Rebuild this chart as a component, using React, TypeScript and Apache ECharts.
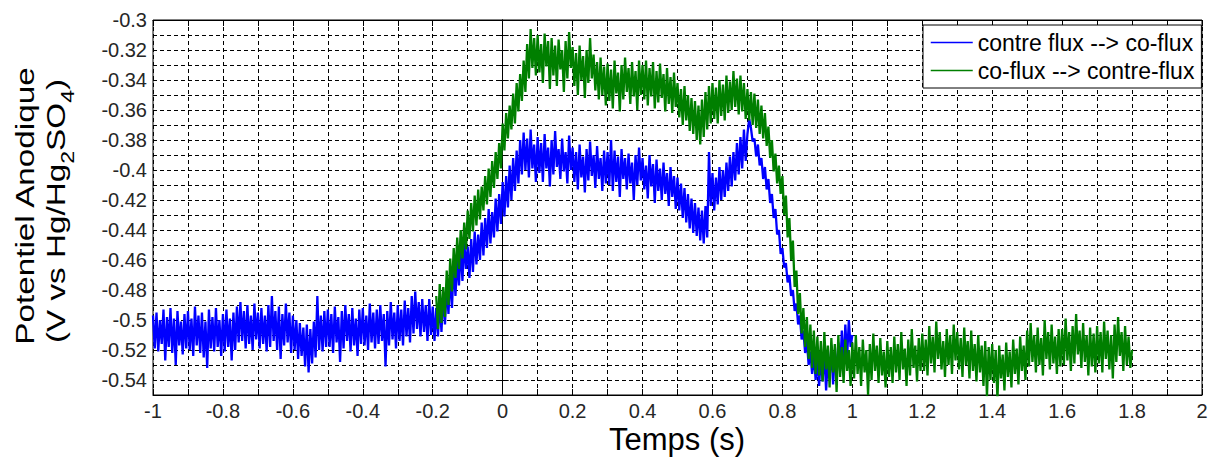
import React, { useEffect, useRef } from "react";
import * as echarts from "echarts";

// x-axis (time, s)
const xMin = -1;
const xMax = 2;
// y-axis (potential, V)
const yMin = -0.55;
const yMax = -0.3;

const seriesNames = ["contre flux --> co-flux", "co-flux --> contre-flux"];
const seriesColors = ["#0000ff", "#007f00"];

// sampling of the traces (s)
const step = 0.005;
const blueStart = -1;
const greenStart = -0.19;

// "contre flux --> co-flux" potential, mV, one row per 0.1 s
const blueMv = [
  -497,-519,-495,-521,-500,-516,-493,-527,-498,-518,-492,-522,-499,-530,-494,-517,-501,-523,-496,-519,
  -494,-520,-499,-524,-491,-517,-497,-522,-495,-525,-501,-532,-493,-519,-498,-521,-492,-518,-500,-524,
  -496,-521,-493,-518,-499,-527,-495,-520,-491,-515,-488,-514,-494,-519,-490,-516,-497,-520,-489,-513,
  -495,-519,-492,-516,-497,-521,-490,-518,-484,-514,-494,-520,-491,-526,-496,-517,-489,-515,-495,-522,
  -497,-520,-500,-526,-502,-524,-505,-531,-503,-535,-506,-529,-501,-525,-484,-520,-497,-521,-494,-518,
  -493,-518,-496,-522,-491,-515,-498,-528,-494,-519,-490,-514,-496,-521,-492,-517,-499,-524,-493,-516,
  -492,-517,-497,-520,-489,-515,-495,-519,-493,-516,-490,-514,-496,-531,-494,-517,-488,-513,-495,-519,
  -490,-514,-493,-517,-487,-511,-492,-515,-484,-509,-481,-506,-488,-511,-486,-508,-490,-514,-486,-510,
  -491,-514,-492,-511,-486,-508,-481,-503,-476,-496,-469,-492,-463,-484,-460,-477,-451,-474,-447,-466,
  -451,-472,-446,-468,-441,-463,-443,-460,-435,-457,-432,-452,-426,-449,-428,-445,-419,-441,-416,-436,
  -408,-431,-404,-425,-397,-420,-392,-414,-387,-409,-380,-403,-375,-400,-379,-405,-373,-399,-383,-408,
  -378,-402,-382,-408,-376,-399,-385,-411,-380,-403,-374,-398,-386,-406,-379,-401,-388,-409,-377,-400,
  -385,-408,-388,-413,-383,-405,-391,-415,-386,-407,-381,-404,-390,-412,-384,-406,-392,-414,-387,-409,
  -388,-410,-380,-414,-387,-408,-391,-418,-386,-406,-392,-413,-389,-409,-395,-420,-390,-410,-385,-407,
  -392,-413,-397,-419,-390,-411,-396,-422,-393,-414,-399,-420,-395,-416,-402,-424,-398,-418,-404,-426,
  -405,-427,-409,-432,-412,-435,-416,-439,-419,-442,-422,-444,-425,-447,-427,-449,-424,-445,-388,-424,
  -402,-427,-405,-423,-398,-420,-400,-418,-395,-414,-391,-411,-388,-407,-382,-403,-378,-399,-373,-394,
  -376,-366,-372,-381,-379,-391,-383,-397,-392,-406,-398,-413,-406,-422,-416,-432,-426,-443,-440,-456,
  -452,-465,-462,-475,-470,-484,-480,-494,-489,-503,-497,-513,-507,-522,-514,-530,-521,-536,-523,-540,
  -527,-544,-524,-541,-520,-547,-526,-539,-517,-543,-522,-537,-515,-534,-507,-530,-503,-525,-500,-518,
  -510,
];

// "co-flux --> contre-flux" potential, mV (first row: -0.19 s to -0.105 s, then one row per 0.1 s)
const greenMv = [
  -484,-506,-476,-502,-478,-498,-467,-490,-459,-481,-452,-472,-445,-466,-440,-459,-435,-453,
  -427,-446,-422,-441,-417,-437,-413,-433,-411,-427,-404,-423,-399,-418,-394,-412,-388,-406,-382,-399,
  -369,-387,-362,-379,-357,-373,-349,-369,-342,-361,-336,-354,-327,-348,-316,-339,-306,-332,-312,-337,
  -310,-335,-316,-342,-309,-331,-314,-346,-312,-337,-317,-344,-313,-333,-320,-348,-314,-339,-308,-332,
  -318,-344,-322,-350,-317,-340,-324,-352,-320,-342,-312,-339,-323,-347,-328,-353,-325,-350,-331,-357,
  -329,-354,-333,-359,-327,-349,-335,-361,-330,-353,-325,-348,-332,-356,-328,-351,-334,-360,-327,-350,
  -330,-353,-327,-357,-332,-351,-328,-359,-334,-355,-329,-352,-336,-361,-332,-356,-338,-362,-335,-358,
  -342,-365,-346,-370,-344,-367,-350,-374,-352,-376,-354,-380,-357,-383,-353,-378,-348,-373,-344,-369,
  -342,-366,-345,-369,-340,-364,-343,-367,-337,-362,-341,-360,-334,-358,-339,-363,-337,-361,-342,-366,
  -346,-367,-348,-370,-349,-372,-353,-376,-357,-379,-362,-384,-371,-392,-380,-401,-389,-409,-397,-416,
  -404,-430,-417,-445,-432,-460,-447,-478,-467,-496,-482,-509,-492,-518,-498,-526,-503,-532,-507,-536,
  -511,-537,-514,-541,-508,-533,-517,-545,-512,-535,-516,-548,-510,-538,-518,-542,-513,-534,-520,-544,
  -515,-539,-510,-536,-518,-544,-513,-535,-520,-550,-516,-540,-509,-534,-517,-542,-512,-537,-521,-545,
  -514,-538,-518,-542,-511,-535,-516,-540,-508,-533,-519,-544,-513,-537,-506,-532,-517,-541,-512,-534,
  -509,-534,-513,-537,-504,-529,-511,-535,-501,-526,-508,-533,-514,-538,-506,-530,-510,-536,-503,-527,
  -508,-533,-512,-538,-505,-530,-514,-539,-507,-534,-516,-541,-510,-535,-517,-544,-514,-551,-518,-540,
  -516,-542,-520,-553,-517,-539,-523,-547,-515,-538,-521,-545,-513,-536,-519,-543,-511,-534,-517,-540,
  -507,-531,-502,-528,-510,-535,-505,-530,-512,-537,-500,-526,-508,-533,-503,-529,-511,-536,-506,-531,
  -506,-530,-499,-527,-508,-534,-504,-529,-496,-523,-507,-532,-502,-528,-510,-537,-505,-531,-509,-535,
  -504,-529,-508,-535,-501,-526,-507,-533,-510,-539,-503,-528,-498,-524,-508,-534,-504,-530,-511,-532,
  -520,
];

const xTitle = "Temps (s)";
const yTitle1 = "Potentiel Anodique";

const FONT = "Liberation Sans, Arial, sans-serif";

function toPairs(start: number, mv: number[]) {
  return mv.map((v, i) => [Math.round((start + i * step) * 1000) / 1000, v / 1000]);
}

export default function App() {
  const ref = useRef<HTMLDivElement>(null);
  useEffect(() => {
    if (!ref.current) return;
    const chart = echarts.init(ref.current, undefined, { renderer: "svg" });
    const dash = { color: "#000", type: [4, 3] as any, width: 1 };
    const xLabel = (v: number) => {
      const k = Math.round(v * 10);
      return k % 2 === 0 ? String(k / 10) : "";
    };
    const yLabel = (v: number) => {
      const k = Math.round(v * 100);
      return k % 2 === 0 ? String(k / 100) : "";
    };
    const labelStyle = { fontFamily: FONT, fontSize: 20, color: "#262626" };
    chart.setOption({
      animation: false,
      backgroundColor: "#fff",
      grid: {
        left: 153,
        right: 12,
        top: 20,
        bottom: 66,
        show: true,
        borderColor: "#000",
        borderWidth: 1,
        backgroundColor: "transparent",
      },
      legend: {
        left: 923,
        top: 25,
        orient: "vertical",
        backgroundColor: "#fff",
        borderColor: "#000",
        borderWidth: 1,
        padding: [6, 7, 6, 7],
        itemWidth: 42,
        itemHeight: 14,
        itemGap: 5,
        itemStyle: { opacity: 0 },
        lineStyle: { width: 1.5 },
        textStyle: { fontFamily: FONT, fontSize: 23, color: "#000" },
        data: seriesNames,
      },
      xAxis: [
        {
          type: "value",
          min: xMin,
          max: xMax,
          interval: 0.1,
          axisLine: { show: true, lineStyle: { color: "#000", width: 1 } },
          axisTick: { show: true, inside: true, length: 6, lineStyle: { color: "#000" } },
          axisLabel: { ...labelStyle, margin: 6, formatter: xLabel, showMinLabel: true, showMaxLabel: true },
          splitLine: { show: true, lineStyle: dash },
        },
        {
          type: "value",
          position: "top",
          min: xMin,
          max: xMax,
          interval: 0.1,
          axisLine: { show: true, lineStyle: { color: "#000", width: 1 } },
          axisTick: { show: true, inside: true, length: 6, lineStyle: { color: "#000" } },
          axisLabel: { show: false },
          splitLine: { show: false },
        },
      ],
      yAxis: [
        {
          type: "value",
          min: yMin,
          max: yMax,
          interval: 0.01,
          axisLine: { show: true, lineStyle: { color: "#000", width: 1 } },
          axisTick: { show: true, inside: true, length: 6, lineStyle: { color: "#000" } },
          axisLabel: { ...labelStyle, margin: 6, formatter: yLabel, showMinLabel: true, showMaxLabel: true },
          splitLine: { show: true, lineStyle: dash },
        },
        {
          type: "value",
          position: "right",
          min: yMin,
          max: yMax,
          interval: 0.01,
          axisLine: { show: true, lineStyle: { color: "#000", width: 1 } },
          axisTick: { show: true, inside: true, length: 6, lineStyle: { color: "#000" } },
          axisLabel: { show: false },
          splitLine: { show: false },
        },
      ],
      series: [
        {
          name: seriesNames[0],
          type: "line",
          symbol: "none",
          showSymbol: false,
          color: seriesColors[0],
          lineStyle: { width: 2.3, color: seriesColors[0] },
          data: toPairs(blueStart, blueMv),
          z: 2,
        },
        {
          name: seriesNames[1],
          type: "line",
          symbol: "none",
          showSymbol: false,
          color: seriesColors[1],
          lineStyle: { width: 2.3, color: seriesColors[1] },
          data: toPairs(greenStart, greenMv),
          z: 3,
        },
      ],
      graphic: [
        {
          type: "text",
          x: 677,
          y: 439,
          style: {
            text: xTitle,
            fontFamily: FONT,
            fontSize: 31,
            fill: "#000",
            textAlign: "center",
            textVerticalAlign: "middle",
            align: "center",
            verticalAlign: "middle",
          },
        },
        {
          type: "text",
          x: 25,
          y: 206,
          rotation: Math.PI / 2,
          scaleX: 1.28,
          style: {
            text: yTitle1,
            fontFamily: FONT,
            fontSize: 26,
            fill: "#000",
            textAlign: "center",
            textVerticalAlign: "middle",
            align: "center",
            verticalAlign: "middle",
          },
        },
        {
          type: "text",
          x: 56,
          y: 211,
          rotation: Math.PI / 2,
          scaleX: 1.28,
          style: {
            text: "{n|(V vs Hg/Hg}{s|2}{n|SO}{s|4}{n|)}",
            fill: "#000",
            textAlign: "center",
            textVerticalAlign: "middle",
            align: "center",
            verticalAlign: "middle",
            rich: {
              n: { fontFamily: FONT, fontSize: 26, lineHeight: 40, verticalAlign: "middle", fill: "#000", color: "#000" },
              s: { fontFamily: FONT, fontSize: 18, lineHeight: 40, verticalAlign: "bottom", fill: "#000", color: "#000" },
            },
          },
        },
      ],
    });
    return () => chart.dispose();
  }, []);
  return (
    <div
      ref={ref}
      style={{ position: "fixed", left: 0, top: 0, width: 1214, height: 461 }}
    />
  );
}
